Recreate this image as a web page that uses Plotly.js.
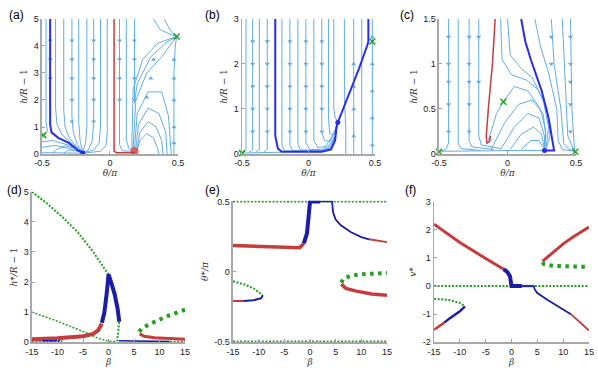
<!DOCTYPE html>
<html>
<head>
<meta charset="utf-8">
<script src="https://cdn.plot.ly/plotly-3.0.1.min.js"></script>
<style>
  html, body { margin: 0; padding: 0; background: #fff; }
  #plot { width: 598px; height: 371px; }
</style>
</head>
<body>
<div id="plot"></div>
<script>
// ---- panel (a): streamlines, theta/pi vs h/R-1 ----
var aStreams = [
  [[-0.47,5],[-0.47,1.2],[-0.46,0.85],[-0.49,0.7]],
  [[-0.4,5],[-0.4,1.7],[-0.39,1.1],[-0.35,0.7],[-0.27,0.35],[-0.2,0.05]],
  [[-0.34,5],[-0.34,1.6],[-0.33,1.0],[-0.3,0.6],[-0.25,0.3],[-0.2,0.05]],
  [[-0.28,5],[-0.28,1.4],[-0.27,0.8],[-0.24,0.35],[-0.2,0.06]],
  [[-0.23,5],[-0.23,1.2],[-0.22,0.5],[-0.2,0.06]],
  [[-0.17,5],[-0.17,1.0],[-0.18,0.4],[-0.2,0.08]],
  [[-0.12,5],[-0.12,1.2],[-0.13,0.5],[-0.16,0.15],[-0.2,0.05]],
  [[-0.07,5],[-0.07,1.0],[-0.08,0.4],[-0.12,0.15],[-0.2,0.04]],
  [[-0.02,5],[-0.02,0.8],[-0.03,0.3],[-0.07,0.1],[-0.2,0.03]],
  [[-0.5,0.45],[-0.42,0.5],[-0.3,0.32],[-0.2,0.05]],
  [[-0.5,0.25],[-0.4,0.32],[-0.3,0.2],[-0.2,0.04]],
  [[-0.42,0.02],[-0.4,0.15],[-0.33,0.3],[-0.25,0.2],[-0.2,0.05]],
  [[-0.34,0.02],[-0.3,0.15],[-0.25,0.12],[-0.21,0.05]],
  [[-0.5,0.05],[-0.2,0.03]],
  [[0.07,5],[0.07,0.35],[0.09,0.12],[0.16,0.1]],
  [[0.12,5],[0.12,0.5],[0.14,0.2],[0.17,0.12]],
  [[0.18,5],[0.18,1.9],[0.2,2.6],[0.3,3.6],[0.42,4.15],[0.49,4.35]],
  [[0.2,0.15],[0.22,0.5],[0.27,0.75],[0.32,0.6],[0.35,0.2],[0.36,0]],
  [[0.2,0.2],[0.22,0.8],[0.28,1.2],[0.34,1.0],[0.38,0.5],[0.39,0]],
  [[0.19,0.2],[0.21,1.1],[0.28,1.7],[0.36,1.5],[0.41,0.8],[0.42,0]],
  [[0.18,0.2],[0.2,1.5],[0.28,2.3],[0.38,2.3],[0.43,1.4],[0.45,0]],
  [[0.17,0.2],[0.19,2.0],[0.27,3.0],[0.38,3.6],[0.49,4.35]],
  [[0.16,0.2],[0.17,2.4],[0.24,3.5],[0.35,4.1],[0.49,4.35]],
  [[0.47,0],[0.47,3.0],[0.48,4.0],[0.49,4.35]],
  [[0.32,5],[0.37,4.6],[0.45,4.42],[0.49,4.35]],
  [[0.4,5],[0.44,4.6],[0.49,4.35]]
];
var aBlue = [[-0.44,5],[-0.44,1.1],[-0.43,0.8],[-0.38,0.6],[-0.3,0.4],[-0.24,0.15],[-0.2,0.04]];
var aRed = [[0.03,5],[0.03,0.1],[0.05,0.05],[0.18,0.05],[0.18,0.1]];
var aDownX = [-0.44,-0.44,-0.44,-0.28,-0.28,-0.28,-0.28,-0.28,-0.12,-0.12,-0.12,-0.12,-0.12,0.07,0.07,0.07,0.07,0.18,0.18,0.18,0.18];
var aDownY = [4.2,3.5,2.8,4.2,3.5,2.8,2.0,1.2,4.2,3.5,2.8,2.0,1.2,4.2,3.5,2.8,2.0,4.2,3.5,2.8,2.0];
var aUpX = [0.47,0.47,0.47,0.47,0.47,0.32,0.3,0.27];
var aUpY = [3.5,2.8,2.0,1.0,0.4,3.5,2.8,2.1];
var aSaddle = [[-0.49,0.7],[0.49,4.35]];

// ---- panel (b) ----
var bStreams = [
  [[-0.47,3],[-0.47,0.1],[-0.49,0.02]],
  [[-0.42,3],[-0.42,0.1],[-0.45,0.03]],
  [[-0.37,3],[-0.37,0.1],[-0.4,0.03]],
  [[-0.31,3],[-0.31,0.1],[-0.34,0.03]],
  [[-0.5,0.02],[-0.2,0.04]],
  [[-0.2,3],[-0.2,0.2],[-0.18,0.07],[0.1,0.06],[0.17,0.12],[0.2,0.35],[0.22,0.7]],
  [[-0.14,3],[-0.14,0.2],[-0.12,0.08],[0.1,0.07],[0.16,0.13],[0.2,0.38],[0.22,0.7]],
  [[-0.08,3],[-0.08,0.22],[-0.06,0.09],[0.1,0.08],[0.16,0.15],[0.2,0.4],[0.22,0.7]],
  [[-0.02,3],[-0.02,0.25],[0.01,0.1],[0.1,0.1],[0.15,0.17],[0.2,0.42],[0.22,0.7]],
  [[0.04,3],[0.04,0.3],[0.07,0.14],[0.13,0.17],[0.19,0.45],[0.22,0.7]],
  [[0.1,3],[0.1,0.5],[0.12,0.3],[0.16,0.28],[0.2,0.5],[0.22,0.7]],
  [[0.15,3],[0.15,0.8],[0.16,0.45],[0.18,0.42],[0.21,0.58],[0.22,0.7]],
  [[0.19,3],[0.19,1.0],[0.2,0.82],[0.22,0.7]],
  [[0.28,0],[0.28,0.6],[0.27,1.2],[0.27,3]],
  [[0.34,0],[0.34,3]],
  [[0.4,0],[0.4,3]],
  [[0.48,0],[0.48,3]]
];
var bBlue = [[-0.25,3],[-0.25,0.4],[-0.23,0.12],[-0.2,0.05],[0.1,0.05],[0.17,0.1],[0.2,0.3],[0.21,0.6],[0.22,0.7],
             [0.3,1.3],[0.38,1.9],[0.44,2.4],[0.45,2.5],[0.45,3]];
var bDownX = [-0.42,-0.42,-0.42,-0.42,-0.42,-0.31,-0.31,-0.31,-0.31,-0.31,-0.14,-0.14,-0.14,-0.14,-0.14,-0.02,-0.02,-0.02,-0.02,-0.02,0.1,0.1,0.1,0.1,0.1];
var bDownY = [2.5,2.0,1.5,1.0,0.5,2.5,2.0,1.5,1.0,0.5,2.5,2.0,1.5,1.0,0.5,2.5,2.0,1.5,1.0,0.5,2.5,2.0,1.5,1.0,0.5];
var bUpX = [0.34,0.34,0.34,0.34,0.48,0.48,0.48,0.48,0.48];
var bUpY = [0.4,1.0,1.5,2.0,0.2,0.8,1.4,2.0,2.6];
var bSaddle = [[-0.5,0.02],[0.48,2.5]];

// ---- panel (c) ----
var cStreams = [
  [[-0.43,1.5],[-0.43,0.12],[-0.45,0.05],[-0.5,0.03]],
  [[-0.36,1.5],[-0.36,0.12],[-0.34,0.06],[-0.2,0.04]],
  [[-0.28,1.5],[-0.28,0.15],[-0.26,0.08],[-0.1,0.05]],
  [[-0.21,1.5],[-0.21,0.2],[-0.19,0.1],[-0.05,0.06]],
  [[-0.5,0.03],[-0.1,0.04],[0.1,0.04],[0.27,0.04]],
  [[-0.05,1.5],[-0.04,1.05],[0.03,0.88],[0.14,0.82],[0.22,0.72],[0.29,0.5],[0.31,0.2],[0.28,0.05]],
  [[0.0,1.5],[0.02,1.1],[0.1,0.95],[0.18,0.85],[0.26,0.6],[0.3,0.3],[0.28,0.05]],
  [[-0.03,0.58],[0.05,0.75],[0.15,0.7],[0.24,0.5],[0.28,0.25],[0.27,0.05]],
  [[-0.03,0.58],[-0.08,0.45],[-0.12,0.25],[-0.14,0.15]],
  [[-0.12,0.05],[-0.02,0.35],[0.08,0.55],[0.18,0.6],[0.26,0.45],[0.28,0.2],[0.27,0.05]],
  [[-0.05,0.05],[0.05,0.3],[0.15,0.45],[0.23,0.4],[0.27,0.2],[0.27,0.05]],
  [[0.02,0.05],[0.1,0.22],[0.19,0.3],[0.25,0.22],[0.27,0.05]],
  [[0.1,0.05],[0.17,0.15],[0.23,0.15],[0.27,0.05]],
  [[0.2,1.5],[0.24,1.2],[0.3,0.9],[0.36,0.5],[0.37,0.15],[0.4,0.05],[0.49,0.03]],
  [[0.32,1.5],[0.34,1.0],[0.39,0.5],[0.41,0.12],[0.45,0.05],[0.49,0.03]],
  [[0.4,1.5],[0.42,0.8],[0.44,0.2],[0.49,0.03]],
  [[0.46,1.5],[0.47,0.5],[0.49,0.03]]
];
var cBlue = [[0.1,1.5],[0.13,1.25],[0.17,1.05],[0.25,0.7],[0.3,0.4],[0.33,0.15],[0.34,0.04],[0.27,0.04]];
var cRed = [[-0.09,1.5],[-0.11,1.0],[-0.14,0.5],[-0.155,0.2],[-0.15,0.12],[-0.13,0.14],[-0.125,0.2]];
var cDownX = [-0.43,-0.43,-0.43,-0.43,-0.43,-0.28,-0.28,-0.28,-0.28,-0.28,-0.21,-0.21,0.32,0.32,0.46,0.46,0.46,0.46,0.46];
var cDownY = [1.3,1.0,0.8,0.55,0.25,1.3,1.0,0.8,0.55,0.25,1.3,0.8,1.3,1.0,1.3,1.0,0.8,0.55,0.25];
var cSaddle = [[-0.03,0.58],[-0.5,0.025],[0.495,0.025]];

// ---- panel (d): h*/R-1 vs beta ----
var dGreenUpB = [-15,-12,-9,-6,-3,-1,0];
var dGreenUpH = [5.0,4.6,4.15,3.65,3.0,2.5,2.25];
var dGreenLoB = [-15,-10,-5,-2,0,1.5];
var dGreenLoH = [1.0,0.7,0.36,0.13,0.04,0.02];
var dGreenMidB = [2.1,1.9,1.7];
var dGreenMidH = [0.68,0.3,0.04];
var dBlueB = [-1.3,-0.8,-0.3,0,0.5,1.2,1.8,2.1];
var dBlueH = [0.65,1.0,1.7,2.25,2.0,1.6,1.1,0.68];
var dRedLB = [-15,-10,-5,-3,-2,-1.3];
var dRedLH = [0.1,0.13,0.2,0.28,0.4,0.62];
var dRedRB = [6.1,7,9,12,15];
var dRedRH = [0.28,0.2,0.15,0.12,0.1];
var dGreenRB = [6,6.5,8,10,12,15];
var dGreenRH = [0.35,0.45,0.6,0.75,0.9,1.08];
var dBlueLoB = [-13,-9.5];
var dBlueLoH = [0.05,0.05];
var dBlueRoB = [2,12];
var dBlueRoH = [0.05,0.03];
var dGreenBotB = [-15,-9, 5, 15];

// ---- panel (e): theta*/pi vs beta ----
var eRedLB = [-15,-10,-5,-2,-1.2];
var eRedLH = [0.185,0.18,0.172,0.17,0.2];
var eBlueCB = [-1.2,-0.6,-0.3,-0.1,0,2.0];
var eBlueCH = [0.2,0.27,0.38,0.45,0.5,0.5];
var eBlueRB = [2.0,4.3,4.5,5,6,8,10,11.5];
var eBlueRH = [0.5,0.5,0.42,0.37,0.33,0.28,0.245,0.23];
var eRedRB = [11.5,13,15];
var eRedRH = [0.23,0.22,0.21];
var eGreenLB = [-15,-13,-11,-9.2];
var eGreenLH = [-0.07,-0.09,-0.12,-0.17];
var eRedL2B = [-15,-13];
var eRedL2H = [-0.21,-0.21];
var eBlueL2B = [-13,-11,-9.5,-9.2];
var eBlueL2H = [-0.21,-0.205,-0.19,-0.17];
var eGreenRB = [6.1,6.5,8,10,15];
var eGreenRH = [-0.08,-0.05,-0.03,-0.02,-0.01];
var eRedR2B = [6.1,7,9,12,15];
var eRedR2H = [-0.09,-0.12,-0.14,-0.16,-0.17];

// ---- panel (f): v* vs beta ----
var fRedLB = [-15,-10,-5,-1.5];
var fRedLV = [2.2,1.55,0.98,0.6];
var fBlueCB = [-1.5,-0.8,-0.3,-0.1,0,0,2.0];
var fBlueCV = [0.6,0.5,0.35,0.2,0.05,0,0];
var fBlueRB = [2.0,4.3,4.5,5,7,10,11.5];
var fBlueRV = [0,0,-0.12,-0.25,-0.5,-0.82,-1.0];
var fRedRB = [11.5,13,15];
var fRedRV = [-1.0,-1.25,-1.58];
var fGreenLB = [-15,-12,-10,-9];
var fGreenLV = [-0.45,-0.5,-0.6,-0.72];
var fBlueLB = [-9,-10,-12,-13];
var fBlueLV = [-0.72,-0.9,-1.15,-1.3];
var fRedL2B = [-13,-15];
var fRedL2V = [-1.3,-1.55];
var fRedR2B = [6,8,10,12,15];
var fRedR2V = [0.88,1.2,1.5,1.75,2.1];
var fGreenRB = [6,6.3,8,10,15];
var fGreenRV = [0.85,0.78,0.72,0.7,0.68];

var LB = '#62ade6', BLUE = '#2a2af0', NAVY = '#1c1ca6', RED = '#c43c3c', GREEN = '#22a022';
var THIN = '2px,1.6px', THICK = '3.5px,4.5px';
var data = [];

function pline(pts, xa, ya, color, width, dash) {
  data.push({x: pts.map(function(p){return p[0];}), y: pts.map(function(p){return p[1];}),
    xaxis: xa, yaxis: ya, mode: 'lines', hoverinfo: 'skip', showlegend: false,
    line: {color: color, width: width, dash: dash || 'solid'}});
}
function xyline(xs, ys, xa, ya, color, width, dash) {
  data.push({x: xs, y: ys, xaxis: xa, yaxis: ya, mode: 'lines', hoverinfo: 'skip', showlegend: false,
    line: {color: color, width: width, dash: dash || 'solid'}});
}
function marks(xs, ys, xa, ya, sym, color, size, lw) {
  data.push({x: xs, y: ys, xaxis: xa, yaxis: ya, mode: 'markers', hoverinfo: 'skip', showlegend: false,
    cliponaxis: false,
    marker: {symbol: sym, color: color, size: size, line: {color: color, width: lw || 0}}});
}

// top row
aStreams.forEach(function(s){ pline(s, 'x', 'y', LB, 1); });
marks(aDownX, aDownY, 'x', 'y', 'triangle-down', LB, 4.5);
marks(aUpX, aUpY, 'x', 'y', 'triangle-up', LB, 4.5);
pline(aRed, 'x', 'y', RED, 1.5);
pline(aBlue, 'x', 'y', BLUE, 2);
marks([0.18], [0.1], 'x', 'y', 'circle', 'rgba(210,60,60,0.8)', 8);
marks([-0.2], [0.04], 'x', 'y', 'circle', BLUE, 5);
marks(aSaddle.map(function(p){return p[0];}), aSaddle.map(function(p){return p[1];}), 'x', 'y', 'x-thin', GREEN, 6, 1.5);

bStreams.forEach(function(s){ pline(s, 'x2', 'y2', LB, 1); });
marks(bDownX, bDownY, 'x2', 'y2', 'triangle-down', LB, 4.5);
marks(bUpX, bUpY, 'x2', 'y2', 'triangle-up', LB, 4.5);
pline(bBlue, 'x2', 'y2', BLUE, 2);
marks([0.22], [0.7], 'x2', 'y2', 'circle', BLUE, 5);
marks(bSaddle.map(function(p){return p[0];}), bSaddle.map(function(p){return p[1];}), 'x2', 'y2', 'x-thin', GREEN, 6, 1.5);

cStreams.forEach(function(s){ pline(s, 'x3', 'y3', LB, 1); });
marks(cDownX, cDownY, 'x3', 'y3', 'triangle-down', LB, 4.5);
pline(cRed, 'x3', 'y3', RED, 1.5);
pline(cBlue, 'x3', 'y3', BLUE, 2);
marks([0.27], [0.04], 'x3', 'y3', 'circle', BLUE, 5);
marks(cSaddle.map(function(p){return p[0];}), cSaddle.map(function(p){return p[1];}), 'x3', 'y3', 'x-thin', GREEN, 6, 1.5);

// panel (d)
xyline(dGreenUpB, dGreenUpH, 'x4', 'y4', GREEN, 2, THIN);
xyline(dGreenLoB, dGreenLoH, 'x4', 'y4', GREEN, 1.5, THIN);
xyline(dGreenMidB, dGreenMidH, 'x4', 'y4', GREEN, 2, THIN);
xyline([dGreenBotB[0], dGreenBotB[1]], [0.02, 0.02], 'x4', 'y4', GREEN, 3, THIN);
xyline([dGreenBotB[2], dGreenBotB[3]], [0.02, 0.02], 'x4', 'y4', GREEN, 2, THIN);
xyline(dRedLB, dRedLH, 'x4', 'y4', RED, 4);
xyline(dBlueLoB, dBlueLoH, 'x4', 'y4', NAVY, 1.5);
xyline(dBlueRoB, dBlueRoH, 'x4', 'y4', NAVY, 1.5);
xyline(dRedRB, dRedRH, 'x4', 'y4', RED, 3);
xyline(dGreenRB, dGreenRH, 'x4', 'y4', GREEN, 4, THICK);
xyline(dBlueB, dBlueH, 'x4', 'y4', NAVY, 4);

// panel (e)
xyline([-15, 15], [0.5, 0.5], 'x5', 'y5', GREEN, 2, THIN);
xyline([-15, 15], [-0.5, -0.5], 'x5', 'y5', GREEN, 2, THIN);
xyline(eRedLB, eRedLH, 'x5', 'y5', RED, 3.5);
xyline(eBlueCB, eBlueCH, 'x5', 'y5', NAVY, 4);
xyline(eBlueRB, eBlueRH, 'x5', 'y5', NAVY, 1.8);
xyline(eRedRB, eRedRH, 'x5', 'y5', RED, 1.8);
xyline(eGreenLB, eGreenLH, 'x5', 'y5', GREEN, 2, THIN);
xyline(eRedL2B, eRedL2H, 'x5', 'y5', RED, 2);
xyline(eBlueL2B, eBlueL2H, 'x5', 'y5', NAVY, 2);
xyline(eGreenRB, eGreenRH, 'x5', 'y5', GREEN, 4, THICK);
xyline(eRedR2B, eRedR2H, 'x5', 'y5', RED, 3.5);

// panel (f)
xyline([-15, 15], [0, 0], 'x6', 'y6', GREEN, 2, THIN);
xyline(fRedLB, fRedLV, 'x6', 'y6', RED, 3);
xyline([2.0, 4.3], [0, 0], 'x6', 'y6', '#8a8ad8', 2.5);
xyline(fBlueCB, fBlueCV, 'x6', 'y6', NAVY, 4);
xyline(fBlueRB, fBlueRV, 'x6', 'y6', NAVY, 1.8);
xyline(fRedRB, fRedRV, 'x6', 'y6', RED, 1.8);
xyline(fGreenLB, fGreenLV, 'x6', 'y6', GREEN, 2, THIN);
xyline(fBlueLB, fBlueLV, 'x6', 'y6', NAVY, 2.5);
xyline(fRedL2B, fRedL2V, 'x6', 'y6', RED, 2.5);
xyline(fRedR2B, fRedR2V, 'x6', 'y6', RED, 3);
xyline(fGreenRB, fGreenRV, 'x6', 'y6', GREEN, 4, THICK);

var TF = {family: 'Liberation Sans, Arial, sans-serif', size: 9, color: '#222'};
function ax(dom, range, vals, texts, anchor, title, standoff) {
  return {domain: dom, range: range, anchor: anchor, tickvals: vals, ticktext: texts,
    showline: true, linecolor: '#a8a8a8', linewidth: 1.5, mirror: false,
    ticks: 'inside', ticklen: 3, tickcolor: '#a0a0a0', showgrid: false, zeroline: false,
    tickfont: TF, fixedrange: true,
    title: {text: title, font: {family: 'DejaVu Serif, serif', size: 9, color: '#333'}, standoff: standoff}};
}
var topX = [-0.5, 0, 0.5], topXT = ['-0.5', '0', '0.5'];
var botX = [-15, -10, -5, 0, 5, 10, 15], botXT = ['-15', '-10', '-5', '0', '5', '10', '15'];
var yTop = [0.5849, 0.9488], yBot = [0.0774, 0.4833];

var layout = {
  width: 598, height: 371, margin: {l: 0, r: 0, t: 0, b: 0},
  paper_bgcolor: '#fff', plot_bgcolor: '#fff', showlegend: false,
  xaxis:  ax([0.0702, 0.2977], [-0.5, 0.5], topX, topXT, 'y', '<i>θ/π</i>', 2),
  yaxis:  ax(yTop, [0, 5], [0,1,2,3,4,5], ['0','1','2','3','4','5'], 'x', '<i>h/R</i> − 1', 4),
  xaxis2: ax([0.4047, 0.6271], [-0.5, 0.5], topX, topXT, 'y2', '<i>θ/π</i>', 2),
  yaxis2: ax(yTop, [0, 3], [0,1,2,3], ['0','1','2','3'], 'x2', '<i>h/R</i> − 1', 4),
  xaxis3: ax([0.7341, 0.9632], [-0.5, 0.5], topX, topXT, 'y3', '<i>θ/π</i>', 2),
  yaxis3: ax(yTop, [0, 1.5], [0,0.5,1,1.5], ['0','0.5','1','1.5'], 'x3', '<i>h/R</i> − 1', 4),
  xaxis4: ax([0.0535, 0.3094], [-15, 15], botX, botXT, 'y4', '<i>β</i>', 2),
  yaxis4: ax(yBot, [0, 5], [0,1,2,3,4,5], ['0','1','2','3','4','5'], 'x4', '<i>h*/R</i> − 1', 4),
  xaxis5: ax([0.3896, 0.6472], [-15, 15], botX, botXT, 'y5', '<i>β</i>', 2),
  yaxis5: ax([0.0774, 0.459], [-0.505, 0.505], [-0.5,0,0.5], ['-0.5','0','0.5'], 'x5', '<i>θ*/π</i>', 4),
  xaxis6: ax([0.7258, 0.9849], [-15, 15], botX, botXT, 'y6', '<i>β</i>', 2),
  yaxis6: ax([0.0774, 0.4563], [-2, 3], [-2,-1,0,1,2,3], ['-2','-1','0','1','2','3'], 'x6', '<i>v*</i>', 4),
  annotations: [
    ['(a)', 7, 15], ['(b)', 203, 15], ['(c)', 398, 15],
    ['(d)', 5, 190], ['(e)', 203, 190], ['(f)', 403, 190]
  ].map(function(a){
    return {text: a[0], xref: 'paper', yref: 'paper', x: a[1]/598, y: 1 - a[2]/371,
      xanchor: 'left', yanchor: 'middle', showarrow: false,
      font: {family: 'Liberation Sans, Arial, sans-serif', size: 12, color: '#000'}};
  })
};

Plotly.newPlot('plot', data, layout, {displayModeBar: false, staticPlot: true});
</script>
</body>
</html>
